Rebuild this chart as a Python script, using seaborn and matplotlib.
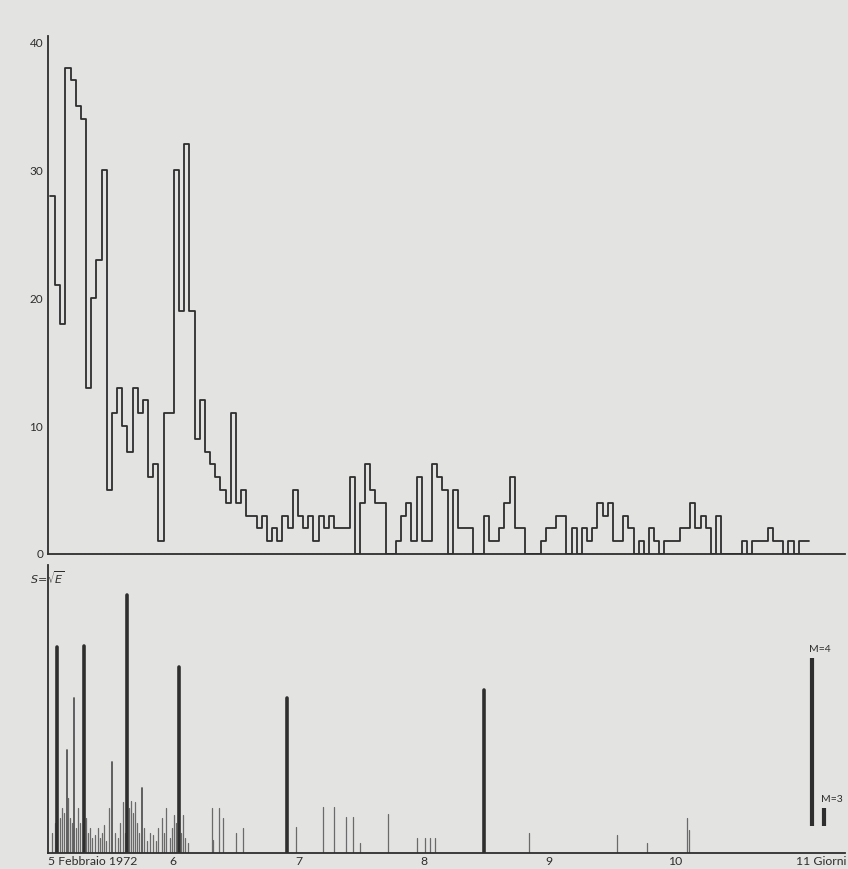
import numpy as np
import pandas as pd
import matplotlib
matplotlib.use("Agg")
import matplotlib.pyplot as plt
import matplotlib.transforms as mtransforms
import seaborn as sns

# ---------------- data ----------------
# hourly number of shocks, starting 5 Feb 1972 (one value per hour)
counts_day5 = [28, 21, 18, 38, 37, 35, 34, 13, 20, 23, 30, 5,
               11, 13, 10, 8, 13, 11, 12, 6, 7, 1, 11, 11]
counts_day6 = [30, 19, 32, 19, 9, 12, 8, 7, 6, 5, 4, 11,
               4, 5, 3, 3, 2, 3, 1, 2, 1, 3, 2, 5]
counts_day7 = [3, 2, 3, 1, 3, 2, 3, 2, 2, 2, 6, 0,
               4, 7, 5, 4, 4, 0, 0, 1, 3, 4, 1, 6]
counts_day8 = [1, 1, 7, 6, 5, 0, 5, 2, 2, 2, 0, 0,
               3, 1, 1, 2, 4, 6, 2, 2, 0, 0, 0, 1]
counts_day9 = [2, 2, 3, 3, 0, 2, 0, 2, 1, 2, 4, 3,
               4, 1, 1, 3, 2, 0, 1, 0, 2, 1, 0, 1]
counts_day10 = [1, 1, 2, 2, 4, 2, 3, 2, 0, 3, 0, 0,
                0, 0, 1, 0, 1, 1, 1, 2, 1, 1, 0, 1]
counts_day11 = [0, 1, 1]
hourly_counts = (counts_day5 + counts_day6 + counts_day7 + counts_day8
                 + counts_day9 + counts_day10 + counts_day11)

# single shocks: time (day of Feb 1972) and S = sqrt(E) (arbitrary units)
major_days = [5.069, 5.290, 5.633, 6.043, 6.905, 8.481]
major_S = [20.6, 20.7, 25.8, 18.6, 15.5, 16.3]

medium_days = [5.149, 5.207, 5.513, 5.748]
medium_S = [10.3, 15.5, 9.1, 6.5]

minor_days = [5.032, 5.056, 5.096, 5.112, 5.128, 5.160, 5.176, 5.191, 5.223,
              5.239, 5.255, 5.303, 5.319, 5.335, 5.351, 5.375, 5.399, 5.415,
              5.431, 5.447, 5.463, 5.484, 5.535, 5.559, 5.574, 5.596, 5.614,
              5.646, 5.662, 5.678, 5.694, 5.710, 5.726, 5.766, 5.790, 5.814,
              5.838, 5.862, 5.878, 5.910, 5.926, 5.942, 5.973, 5.989, 6.008,
              6.021, 6.061, 6.080, 6.093, 6.117, 6.311, 6.319, 6.362, 6.394,
              6.500, 6.558, 6.979, 7.197, 7.282, 7.378, 7.436, 7.489, 7.715,
              7.942, 8.008, 8.048, 8.088, 8.840, 9.542, 9.782, 10.096, 10.117]
minor_S = [2.0, 3.0, 3.5, 4.5, 4.0, 5.5, 3.5, 3.0, 2.5,
           4.5, 3.0, 3.5, 2.0, 2.5, 1.5, 1.8, 2.5, 1.5,
           2.0, 2.8, 1.2, 4.5, 2.0, 1.5, 3.0, 5.1, 2.0,
           4.5, 5.2, 4.0, 5.1, 3.0, 2.0, 2.5, 1.2, 2.0,
           1.8, 1.2, 2.5, 3.5, 2.0, 4.5, 1.5, 2.5, 3.8,
           3.0, 2.0, 3.8, 1.5, 1.0, 4.5, 1.3, 4.5, 3.5,
           2.0, 2.5, 2.6, 4.6, 4.6, 3.6, 3.6, 1.0, 3.9,
           1.5, 1.5, 1.5, 1.5, 2.0, 1.8, 1.0, 3.5, 2.3]

day_ticks = [5, 6, 7, 8, 9, 10, 11]
day_labels = ["5 Febbraio 1972", "6", "7", "8", "9", "10", "11 Giorni"]
count_ticks = [0, 10, 20, 30, 40]
count_labels = ["0", "10", "20", "30", "40"]
ref_labels = ["M=4", "M=3"]
ref_S = [16.8, 1.8]

# ---------------- style ----------------
BG = "#e3e3e1"
INK = "#2e2e2e"
sns.set_theme(style="white")
plt.rcParams["font.family"] = ["Lato", "DejaVu Sans"]
plt.rcParams["mathtext.fontset"] = "dejavusans"

W, H = 848, 869
fig = plt.figure(figsize=(W / 100, H / 100), dpi=100, facecolor=BG)

x_left = 48
x_right = 845
px_per_day = (800 - 48) / 6.0
xlim = (5.0, 5.0 + (x_right - x_left) / px_per_day)

ax1 = fig.add_axes([x_left / W, 1 - 554 / H, (x_right - x_left) / W, 518.4 / H])
ax2 = fig.add_axes([x_left / W, 1 - 853 / H, (x_right - x_left) / W, 288 / H])

for ax in (ax1, ax2):
    ax.set_facecolor(BG)
    for s in ("top", "right"):
        ax.spines[s].set_visible(False)
    for s in ("left", "bottom"):
        ax.spines[s].set_color(INK)
        ax.spines[s].set_linewidth(1.3)
    ax.set_xlim(*xlim)

# ---------------- top: hourly histogram ----------------
hist_start_day = 5.016
hist_bin_days = 0.0412
n = len(hourly_counts)
edges = hist_start_day + hist_bin_days * np.arange(n + 1)
centers = edges[:-1] + hist_bin_days / 2
hist_df = pd.DataFrame({"day": centers, "count": hourly_counts})
sns.histplot(data=hist_df, x="day", weights="count", bins=n,
             binrange=(float(edges[0]), float(edges[-1])), element="step",
             fill=False, color=INK, linewidth=1.3, ax=ax1)
ax1.set_ylim(0, 40.5)
ax1.set_xlim(*xlim)
ax1.set_yticks(count_ticks)
ax1.set_yticklabels(count_labels)
ax1.set_xticks([])
ax1.set_xlabel("")
ax1.set_ylabel("")
ax1.tick_params(axis="y", direction="inout", length=5, width=1, colors=INK,
                labelsize=8.5, pad=1)

# ---------------- bottom: single shocks ----------------
def spikes(days, S):
    rows = []
    for i, (d, s) in enumerate(zip(days, S)):
        rows.append({"day": d, "S": 0.0, "id": i})
        rows.append({"day": d, "S": s, "id": i})
    return pd.DataFrame(rows)

sns.lineplot(data=spikes(minor_days, minor_S), x="day", y="S", units="id",
             estimator=None, sort=False, color="#6a6a6a", linewidth=0.9, ax=ax2)
sns.lineplot(data=spikes(medium_days, medium_S), x="day", y="S", units="id",
             estimator=None, sort=False, color="#555555", linewidth=1.3, ax=ax2)
sns.lineplot(data=spikes(major_days, major_S), x="day", y="S", units="id",
             estimator=None, sort=False, color=INK, linewidth=2.6, ax=ax2)

ax2.set_ylim(0, 28.8)
ax2.set_xlim(*xlim)
ax2.set_yticks([])
ax2.set_xticks(day_ticks)
ax2.set_xticklabels(day_labels)
ax2.tick_params(axis="x", length=0, colors=INK, labelsize=8.8, pad=2)
tl = ax2.get_xticklabels()
tl[0].set_horizontalalignment("left")
tl[-1].set_horizontalalignment("left")
# nudge the last label slightly left so it stays inside the figure
tl[-1].set_transform(tl[-1].get_transform()
                     + mtransforms.ScaledTranslation(-4 / 100, 0, fig.dpi_scale_trans))
ax2.set_xlabel("")
ax2.set_ylabel("")

# magnitude reference bars
ref_base = 2.7
ref_x = [5.0 + (812 - x_left) / px_per_day, 5.0 + (824 - x_left) / px_per_day]
ax2.vlines(ref_x[0], ref_base, ref_base + ref_S[0], color=INK, linewidth=3)
ax2.vlines(ref_x[1], ref_base, ref_base + ref_S[1], color=INK, linewidth=3)
ax2.text(ref_x[0] - 0.02, ref_base + ref_S[0] + 0.4, ref_labels[0], fontsize=7.5,
         color=INK, ha="left", va="bottom", clip_on=False)
ax2.text(ref_x[1] - 0.02, ref_base + ref_S[1] + 0.4, ref_labels[1], fontsize=7.5,
         color=INK, ha="left", va="bottom", clip_on=False)

fig.text(30 / W, 1 - 578 / H, r"$S\!=\!\sqrt{E}$", fontsize=8, color=INK,
         ha="left", va="center")

fig.savefig("out.png", dpi=100, facecolor=BG)
